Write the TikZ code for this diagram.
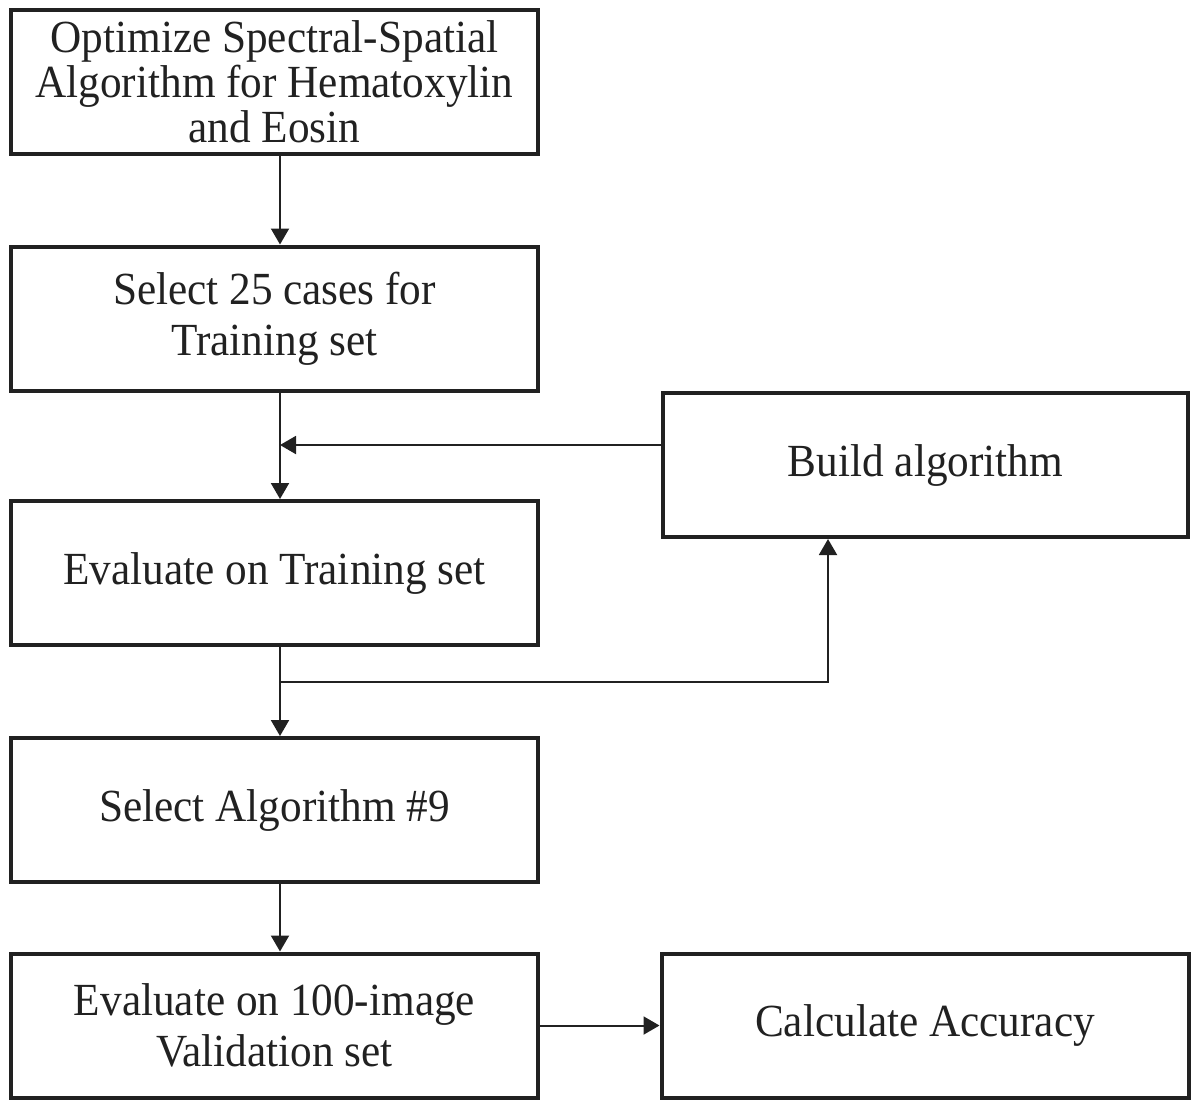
\documentclass[tikz,border=0pt]{standalone}
\usepackage{fontspec}
\setmainfont[FakeStretch=0.94]{Liberation Serif}
\usepackage{xcolor}
\usetikzlibrary{arrows.meta}

\begin{document}
\begin{tikzpicture}[x=0.5pt, y=-0.5pt,
  stepbox/.style={draw=black!87, text=black!87, line width=2pt,
    minimum width=263.5pt, minimum height=72pt, inner sep=0pt,
    align=center, font=\fontsize{23}{22.5}\selectfont},
  wide/.style={font=\fontsize{23}{25.5}\selectfont},
  flow/.style={draw=black!87, line width=1pt,
    -{Triangle[length=8pt, width=9pt]}}]
  \useasboundingbox (0,0) rectangle (1193,1100);

  % Main column
  \node[stepbox] (optimize) at (274.5,82) {Optimize Spectral-Spatial\\Algorithm for Hematoxylin\\and Eosin};
  \node[stepbox, wide] (select) at (274.5,318.5) {Select 25 cases for\\Training set};
  \node[stepbox] (evaltrain) at (274.5,573) {Evaluate on Training set};
  \node[stepbox] (pick) at (274.5,810) {Select Algorithm \#9};
  \node[stepbox, wide] (evalvalid) at (274.5,1025.5) {Evaluate on 100-image\\Validation set};

  % Side boxes
  \node[stepbox, minimum width=262.5pt] (build) at (925.5,465) {Build algorithm};
  \node[stepbox] (accuracy) at (925,1025.5) {Calculate Accuracy};

  % Arrows down the main column
  \draw[flow] ([xshift=2.75pt]optimize.south) -- ([xshift=2.75pt]select.north);
  \draw[flow] ([xshift=2.75pt]select.south) coordinate (trunk) -- ([xshift=2.75pt]evaltrain.north);
  \draw[flow] ([xshift=2.75pt]evaltrain.south) -- ([xshift=2.75pt]pick.north);
  \draw[flow] ([xshift=2.75pt]pick.south) -- ([xshift=2.75pt]evalvalid.north);

  % Loop through Build algorithm
  \coordinate (feed) at ([yshift=10pt]build.west);
  \draw[flow] (feed) -- (feed -| trunk);
  \coordinate (branch) at ([xshift=2.75pt, yshift=-17.5pt]evaltrain.south);
  \draw[flow] (branch) -| ([xshift=-48.75pt]build.south);

  % Validation result
  \draw[flow] (evalvalid.east) -- (accuracy.west);
\end{tikzpicture}
\end{document}
